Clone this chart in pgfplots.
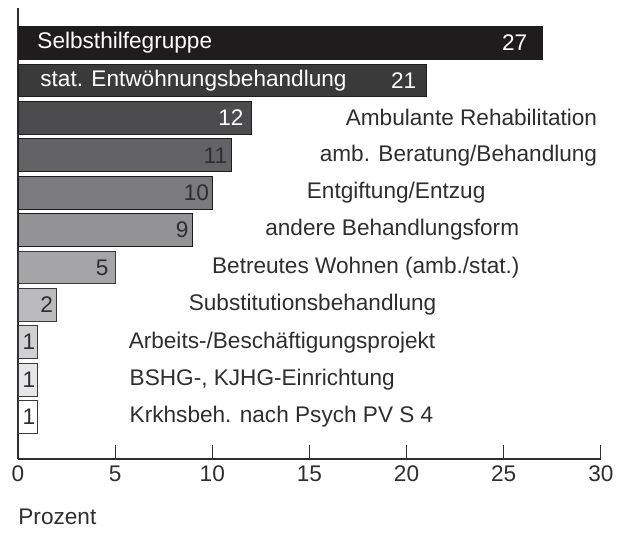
\documentclass[border=0pt]{standalone}
\usepackage{pgfplots}
\pgfplotsset{compat=1.18}
\usepackage{fontspec}
\setmainfont{Liberation Sans}
\definecolor{c1}{HTML}{1E1C1D}
\definecolor{c2}{HTML}{3A3A3A}
\definecolor{c3}{HTML}{4C4C4E}
\definecolor{c4}{HTML}{636365}
\definecolor{c5}{HTML}{7B7B7D}
\definecolor{c6}{HTML}{939395}
\definecolor{c7}{HTML}{A5A5A7}
\definecolor{c8}{HTML}{BBBBBD}
\definecolor{c9}{HTML}{D1D1D3}
\definecolor{c10}{HTML}{E6E6E8}
\definecolor{c11}{HTML}{FFFFFF}
\definecolor{txt}{HTML}{2E2E2E}
\begin{document}
\begin{tikzpicture}[font=\fontsize{10.85pt}{12pt}\selectfont]
\begin{axis}[
  scale only axis,
  width=279.8pt, height=216.5pt,
  xmin=0, xmax=30, ymin=-1.12, ymax=10.94,
  axis x line=bottom, axis y line=left,
  axis line style={draw=txt, line width=0.6pt, -},
  xtick={0,5,10,15,20,25,30},
  ytick=\empty,
  tick align=inside,
  major tick length=6.7pt,
  tick style={draw=txt, line width=0.6pt},
  xticklabel style={text=txt, yshift=-3pt, font=\fontsize{10.85pt}{12pt}\selectfont},
  /pgf/number format/assume math mode=true,
  xbar, bar width=0.88, bar shift=0pt,
  clip=false,
  nodes={inner sep=0pt},
]
\addplot[fill=c1, draw=c1, line width=0.4pt] coordinates {(27,10)};
\addplot[fill=c2, draw=c1, line width=0.4pt] coordinates {(21,9)};
\addplot[fill=c3, draw=c1, line width=0.4pt] coordinates {(12,8)};
\addplot[fill=c4, draw=c1, line width=0.4pt] coordinates {(11,7)};
\addplot[fill=c5, draw=c1, line width=0.4pt] coordinates {(10,6)};
\addplot[fill=c6, draw=c1, line width=0.4pt] coordinates {(9,5)};
\addplot[fill=c7, draw=c2, line width=0.4pt] coordinates {(5,4)};
\addplot[fill=c8, draw=c2, line width=0.4pt] coordinates {(2,3)};
\addplot[fill=c9, draw=c2, line width=0.4pt] coordinates {(1,2)};
\addplot[fill=c10, draw=c2, line width=0.4pt] coordinates {(1,1)};
\addplot[fill=c11, draw=c2, line width=0.4pt] coordinates {(1,0)};
% labels
\node[anchor=west, text=white, inner sep=0pt] at (axis cs:0.98,10) {Selbsthilfegruppe};
\node[anchor=east, text=white, inner sep=0pt] at (axis cs:26.23,10) {27};
\node[anchor=west, text=white, inner sep=0pt] at (axis cs:1.13,9) {stat. Entwöhnungsbehandlung};
\node[anchor=east, text=white, inner sep=0pt] at (axis cs:20.52,9) {21};
\node[anchor=east, text=white, inner sep=0pt] at (axis cs:11.63,8) {12};
\node[anchor=east, text=txt, inner sep=0pt] at (axis cs:29.83,8) {Ambulante Rehabilitation};
\node[anchor=east, text=txt, inner sep=0pt] at (axis cs:10.79,7) {11};
\node[anchor=east, text=txt, inner sep=0pt] at (axis cs:29.83,7) {amb. Beratung/Behandlung};
\node[anchor=east, text=txt, inner sep=0pt] at (axis cs:9.85,6) {10};
\node[anchor=west, text=txt, inner sep=0pt] at (axis cs:14.85,6) {Entgiftung/Entzug};
\node[anchor=east, text=txt, inner sep=0pt] at (axis cs:8.8,5) {9};
\node[anchor=west, text=txt, inner sep=0pt] at (axis cs:12.71,5) {andere Behandlungsform};
\node[anchor=east, text=txt, inner sep=0pt] at (axis cs:4.68,4) {5};
\node[anchor=west, text=txt, inner sep=0pt] at (axis cs:9.97,4) {Betreutes Wohnen (amb./stat.)};
\node[anchor=east, text=txt, inner sep=0pt] at (axis cs:1.82,3) {2};
\node[anchor=west, text=txt, inner sep=0pt] at (axis cs:8.77,3) {Substitutionsbehandlung};
\node[anchor=west, text=txt, inner sep=0pt] at (axis cs:0.22,2) {1};
\node[anchor=west, text=txt, inner sep=0pt] at (axis cs:5.68,2) {Arbeits-/Beschäftigungsprojekt};
\node[anchor=west, text=txt, inner sep=0pt] at (axis cs:0.22,1) {1};
\node[anchor=west, text=txt, inner sep=0pt] at (axis cs:5.73,1) {BSHG-, KJHG-Einrichtung};
\node[anchor=west, text=txt, inner sep=0pt] at (axis cs:0.22,0) {1};
\node[anchor=west, text=txt, inner sep=0pt] at (axis cs:5.73,0) {Krkhsbeh. nach Psych PV S 4};
\node[anchor=west, text=txt, inner sep=0pt] at ([yshift=-27.8pt]rel axis cs:0,0) {Prozent};
\end{axis}
\pgfresetboundingbox
\path[use as bounding box] (-8.64pt,-38.4pt) rectangle (291.4pt,220.3pt);
\end{tikzpicture}
\end{document}
